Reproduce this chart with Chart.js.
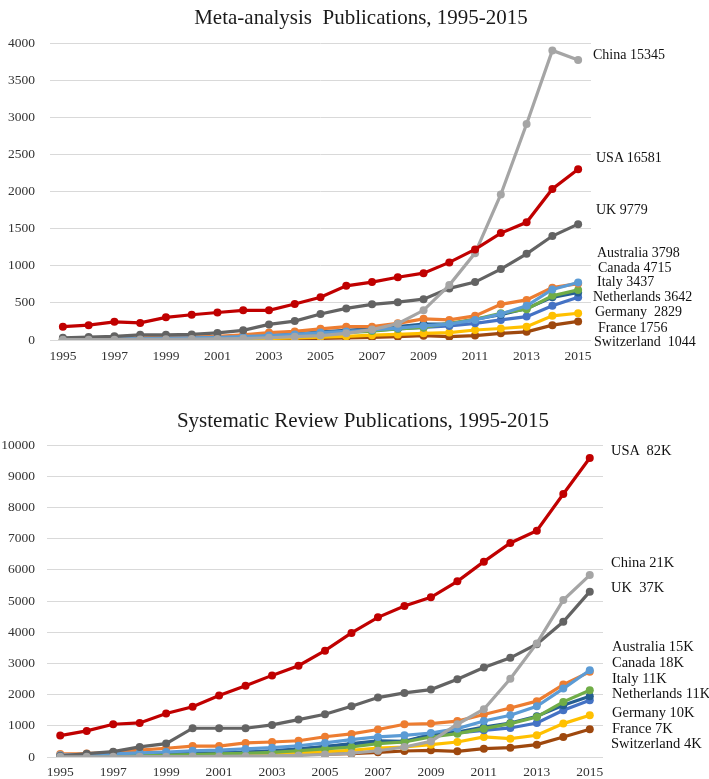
<!DOCTYPE html>
<html>
<head>
<meta charset="utf-8">
<script src="https://cdn.jsdelivr.net/npm/chart.js@4/dist/chart.umd.min.js"></script>
<style>
  html, body { margin: 0; padding: 0; background: #fff; }
  #wrap { position: relative; width: 709px; height: 779px; overflow: hidden; font-family: "Liberation Serif", "Times New Roman", serif; }
  canvas { position: absolute; left: 0; }
  .title { position: absolute; transform: translate(-50%, -50%); white-space: pre; font-size: 21px; color: #1a1a1a; }
  .lab { position: absolute; white-space: pre; line-height: 16px; height: 16px; color: #111; }
</style>
</head>
<body>
<div id="wrap">
  <canvas id="c1" width="709" height="372" style="top:0;width:709px;height:372px"></canvas>
  <canvas id="c2" width="709" height="407" style="top:372px;width:709px;height:407px"></canvas>
</div>
<script>
// ---------- data ----------
const years = ['1995','1996','1997','1998','1999','2000','2001','2002','2003','2004','2005','2006','2007','2008','2009','2010','2011','2012','2013','2014','2015'];
const countries = ['China','USA','UK','Australia','Canada','Italy','Netherlands','Germany','France','Switzerland'];

// Meta-analysis publications
const maChina       = [5,5,5,8,10,12,15,20,30,45,60,90,140,220,400,740,1170,1960,2910,3900,3770];
const maUSA         = [180,200,245,230,305,340,370,400,400,485,575,730,780,845,900,1045,1220,1440,1585,2035,2300];
const maUK          = [30,40,50,70,70,75,95,130,210,255,350,425,480,510,550,695,780,955,1160,1400,1560];
const maAustralia   = [10,12,15,20,25,30,35,45,60,75,100,115,135,160,190,215,270,350,460,680,775];
const maCanada      = [15,20,25,30,35,40,50,70,100,115,150,180,180,225,285,270,325,480,540,705,760];
const maItaly       = [10,12,15,18,22,25,30,40,50,65,85,100,120,150,170,225,280,360,415,595,675];
const maNetherlands = [12,15,18,20,25,30,35,45,60,80,110,130,155,180,215,215,280,340,425,575,640];
const maGermany     = [5,8,10,12,15,18,22,30,45,70,100,110,130,150,170,190,225,270,315,460,575];
const maFrance      = [3,4,5,6,8,10,12,15,20,28,40,50,65,75,90,100,135,155,180,325,360];
const maSwitzerland = [2,3,3,4,5,6,8,10,12,18,22,28,35,45,58,45,60,90,110,200,250];
const maTotals = ['15345','16581','9779','3798','4715','3437','3642','2829','1756','1044'];

// Systematic review publications
const srChina       = [5,5,8,10,12,15,20,25,35,50,80,120,200,320,500,1050,1530,2510,3640,5030,5830];
const srUSA         = [686,836,1050,1093,1394,1608,1972,2283,2616,2927,3409,3977,4477,4840,5118,5630,6261,6859,7254,8429,9583];
const srUK          = [32,107,172,322,429,922,922,922,1029,1200,1372,1629,1905,2054,2161,2493,2868,3178,3617,4334,5299];
const srAustralia   = [60,80,100,130,160,200,220,260,300,360,450,556,642,695,770,909,1156,1337,1626,2193,2782];
const srCanada      = [100,110,150,220,280,350,350,450,480,520,650,740,880,1050,1070,1150,1360,1570,1790,2320,2730];
const srItaly       = [20,30,40,50,60,80,100,120,150,200,260,321,428,481,642,749,909,1070,1284,1766,2140];
const srNetherlands = [30,40,50,60,80,100,120,150,190,250,330,428,514,503,717,802,963,1091,1305,1658,1947];
const srGermany     = [40,50,60,70,90,110,130,160,200,260,330,407,481,481,717,770,856,931,1091,1498,1819];
const srFrance      = [10,15,20,30,40,50,60,80,100,130,170,214,289,321,396,481,642,588,695,1070,1337];
const srSwitzerland = [10,12,15,20,25,30,40,50,60,75,90,107,150,193,214,182,268,300,396,642,888];
const srTotals = ['21K','82K','37K','15K','18K','11K','11K','10K','7K','4K'];

// ---------- styling ----------
const colors = ['#A5A5A5','#C00000','#636363','#5B9BD5','#ED7D31','#70AD47','#255E91','#4472C4','#FFC000','#9E480E'];
const maSeries = [maChina, maUSA, maUK, maAustralia, maCanada, maItaly, maNetherlands, maGermany, maFrance, maSwitzerland];
const srSeries = [srChina, srUSA, srUK, srAustralia, srCanada, srItaly, srNetherlands, srGermany, srFrance, srSwitzerland];

// label layout: [left x, center y] per country
const maLabelPos = [[593,55],[596,158],[596,210],[597,253],[598,268],[597,282],[593,297],[595,312],[598,328],[594,342]];
const maLabelSep = [' ',' ',' ',' ',' ',' ',' ','  ',' ','  '];
const srLabelPos = [[611,562],[611,450],[611,587],[612,646],[612,662],[612,678],[612,693],[612,712],[612,728],[611,743]];
const srLabelSep = [' ','  ','  ',' ',' ',' ',' ',' ',' ',' '];

function datasets(series) {
  return series.map((d, i) => ({
    label: countries[i],
    data: d,
    borderColor: colors[i],
    backgroundColor: colors[i],
    pointBackgroundColor: colors[i],
    pointBorderColor: colors[i],
    pointBorderWidth: 0,
    pointRadius: 4,
    borderWidth: 3.2,
    tension: 0,
    order: i === 1 ? 0 : (i === 0 ? 1 : i + 1)
  }));
}

function makeChart(id, series, max, step, yWidth, yPad, xPad, xHeight, padTop, padRight) {
  return new Chart(document.getElementById(id), {
    type: 'line',
    data: { labels: years, datasets: datasets(series) },
    options: {
      responsive: false,
      animation: false,
      devicePixelRatio: 1,
      layout: { padding: { top: padTop, right: padRight, left: 0, bottom: 0 } },
      plugins: { legend: { display: false }, tooltip: { enabled: false }, title: { display: false } },
      scales: {
        x: {
          offset: true,
          grid: { display: false, drawTicks: false },
          border: { display: false },
          ticks: {
            autoSkip: false, maxRotation: 0, padding: xPad,
            color: '#333', font: { family: 'Liberation Serif', size: 13.5 },
            callback: function (v, idx) { return idx % 2 === 0 ? this.getLabelForValue(v) : ''; }
          },
          afterFit: s => { s.height = xHeight; }
        },
        y: {
          min: 0, max: max,
          grid: { color: '#D9D9D9', lineWidth: 1, drawTicks: false },
          border: { display: false },
          ticks: { stepSize: step, padding: yPad, color: '#333', font: { family: 'Liberation Serif', size: 13.5 },
                   callback: v => String(v) },
          afterFit: s => { s.width = yWidth; }
        }
      }
    }
  });
}

makeChart('c1', maSeries, 4000, 500, 50, 15, 8, 32, 43, 118);
makeChart('c2', srSeries, 10000, 1000, 47, 12, 7, 22, 73, 106);

// ---------- text ----------
const wrap = document.getElementById('wrap');
function addTitle(text, cx, cy) {
  const d = document.createElement('div');
  d.className = 'title'; d.textContent = text;
  d.style.left = cx + 'px'; d.style.top = cy + 'px';
  wrap.appendChild(d);
}
addTitle('Meta-analysis  Publications, 1995-2015', 361, 17);
addTitle('Systematic Review Publications, 1995-2015', 363, 420);

function addLabels(totals, pos, sep, size) {
  countries.forEach((c, i) => {
    const d = document.createElement('div');
    d.className = 'lab';
    d.textContent = c + sep[i] + totals[i];
    d.style.fontSize = size + 'px';
    d.style.left = pos[i][0] + 'px';
    d.style.top = (pos[i][1] - 8) + 'px';
    wrap.appendChild(d);
  });
}
addLabels(maTotals, maLabelPos, maLabelSep, 14);
addLabels(srTotals, srLabelPos, srLabelSep, 14.5);
</script>
</body>
</html>
